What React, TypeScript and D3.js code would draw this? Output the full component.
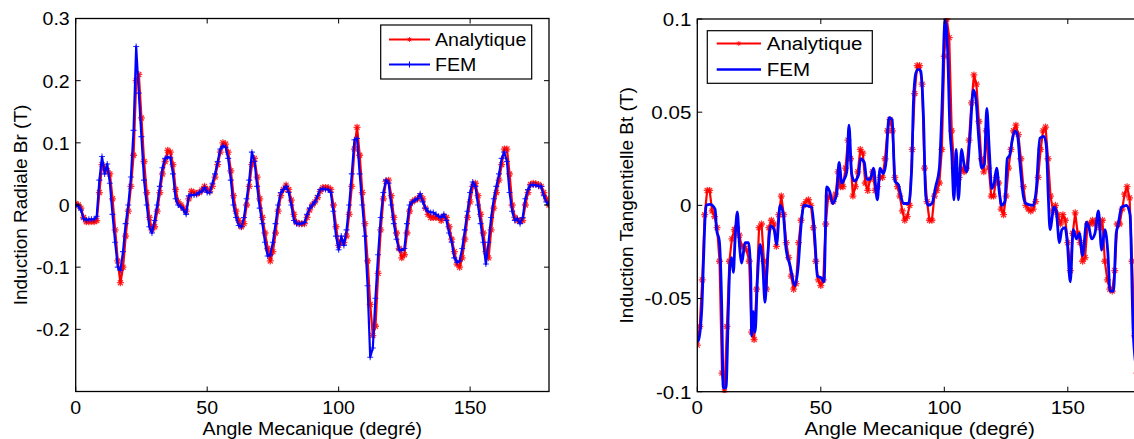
import React from 'react';
import * as d3 from 'd3';

// ---------- DATA ----------
const angles = d3.range(0, 181); // degrees, 1° step

const radialAnalytique = [
  0.002, 0.0, -0.005, -0.02, -0.027, -0.027, -0.026, -0.027, -0.025, 0.02,
  0.065, 0.06, 0.055, 0.05, 0.01, -0.04, -0.09, -0.125, -0.1, -0.05,
  -0.01, 0.03, 0.08, 0.2, 0.21, 0.14, 0.07, 0.02, -0.02, -0.04,
  -0.035, -0.01, 0.02, 0.05, 0.07, 0.088, 0.085, 0.065, 0.025, 0.005,
  0.0, -0.005, -0.01, 0.01, 0.022, 0.02, 0.018, 0.02, 0.024, 0.03,
  0.025, 0.022, 0.03, 0.045, 0.065, 0.085, 0.1, 0.098, 0.085, 0.055,
  0.015, -0.01, -0.025, -0.035, -0.03, 0.0, 0.03, 0.065, 0.075, 0.045,
  0.01, -0.02, -0.045, -0.07, -0.09, -0.075, -0.045, -0.01, 0.015, 0.025,
  0.032, 0.025, 0.008, -0.015, -0.028, -0.03, -0.03, -0.03, -0.02, -0.008,
  0.0, 0.005, 0.012, 0.022, 0.028, 0.028, 0.028, 0.025, 0.0, -0.035,
  -0.065, -0.06, -0.06, -0.05, -0.015, 0.03, 0.09, 0.125, 0.08, 0.02,
  -0.03, -0.09, -0.16, -0.21, -0.195, -0.11, -0.04, 0.01, 0.038, 0.04,
  0.015, -0.02, -0.045, -0.07, -0.085, -0.08, -0.045, -0.01, 0.005, 0.008,
  0.01, 0.015, 0.01, -0.005, -0.015, -0.02, -0.02, -0.02, -0.02, -0.025,
  -0.018, -0.02, -0.035, -0.055, -0.075, -0.095, -0.1, -0.085, -0.055, -0.02,
  0.005, 0.03, 0.035, 0.015, -0.015, -0.045, -0.075, -0.085, -0.04, -0.005,
  0.02, 0.04, 0.065, 0.09, 0.09, 0.05, 0.0, -0.02, -0.025, -0.025,
  -0.025, 0.0, 0.02, 0.033, 0.035, 0.034, 0.033, 0.03, 0.02, 0.01,
  0.0,
];

const radialFem = [
  0.0, -0.002, -0.008, -0.022, -0.024, -0.023, -0.023, -0.023, -0.018, 0.04,
  0.078, 0.05, 0.066, 0.035, -0.015, -0.06, -0.1, -0.105, -0.075, -0.03,
  0.0, 0.045, 0.12, 0.255, 0.18, 0.11, 0.04, 0.0, -0.035, -0.045,
  -0.025, 0.0, 0.03, 0.06, 0.075, 0.077, 0.076, 0.05, 0.01, 0.0,
  -0.003, -0.008, -0.015, 0.015, 0.016, 0.016, 0.017, 0.02, 0.022, 0.028,
  0.02, 0.02, 0.035, 0.05, 0.07, 0.09, 0.095, 0.093, 0.075, 0.04,
  0.0, -0.02, -0.033, -0.035, -0.02, 0.01, 0.04, 0.085, 0.07, 0.03,
  -0.005, -0.03, -0.06, -0.082, -0.08, -0.06, -0.03, 0.0, 0.02, 0.025,
  0.03, 0.02, 0.0, -0.025, -0.03, -0.03, -0.03, -0.028, -0.015, -0.005,
  0.0, 0.005, 0.015, 0.025, 0.026, 0.025, 0.025, 0.02, -0.01, -0.05,
  -0.072, -0.05, -0.065, -0.04, 0.0, 0.05, 0.105, 0.107, 0.05, 0.0,
  -0.05, -0.13, -0.245, -0.23, -0.15, -0.08, -0.02, 0.02, 0.04, 0.035,
  0.0, -0.03, -0.055, -0.072, -0.073, -0.07, -0.03, 0.0, 0.005, 0.008,
  0.01, 0.018, 0.005, -0.005, -0.01, -0.012, -0.012, -0.015, -0.018, -0.02,
  -0.015, -0.025, -0.045, -0.06, -0.085, -0.092, -0.09, -0.07, -0.04, -0.01,
  0.02, 0.037, 0.03, 0.0, -0.03, -0.06, -0.095, -0.06, -0.02, 0.01,
  0.03, 0.05, 0.075, 0.085, 0.07, 0.02, -0.01, -0.025, -0.022, -0.03,
  -0.02, 0.01, 0.025, 0.032, 0.032, 0.032, 0.03, 0.03, 0.015, 0.005,
  0.0,
];

const tangentAnalytique = [
  -0.075, -0.065, -0.04, -0.005, 0.008, 0.008, -0.003, -0.006, -0.012, -0.03,
  -0.09, -0.1, -0.065, -0.03, -0.018, -0.013, -0.012, -0.016, -0.022, -0.022,
  -0.024, -0.03, -0.068, -0.072, -0.045, -0.012, -0.01, -0.03, -0.045, -0.012,
  -0.008, -0.01, -0.022, -0.005, 0.005, -0.005, -0.02, -0.028, -0.038, -0.045,
  -0.042, -0.02, -0.008, 0.0, 0.002, 0.003, 0.0, -0.012, -0.03, -0.04,
  -0.043, -0.04, -0.01, 0.005, 0.004, 0.002, 0.006, 0.018, 0.01, 0.01,
  0.02, 0.035, 0.025, 0.005, 0.01, 0.018, 0.03, 0.028, 0.012, 0.008,
  0.014, 0.018, 0.008, 0.01, 0.015, 0.015, 0.025, 0.04, 0.046, 0.04,
  0.015, 0.01, 0.005, -0.003, -0.008, -0.006, 0.0, 0.03, 0.06, 0.075,
  0.075, 0.065, 0.02, 0.002, -0.008, -0.008, 0.005, 0.008, 0.012, 0.03,
  0.08, 0.1, 0.09, 0.04, 0.02, 0.012, 0.015, 0.02, 0.018, 0.02,
  0.035, 0.055, 0.07, 0.065, 0.045, 0.025, 0.018, 0.04, 0.02, 0.005,
  0.005, 0.015, 0.012, -0.002, -0.005, 0.005, 0.02, 0.03, 0.04, 0.043,
  0.038, 0.025, 0.01, 0.0, -0.002, -0.003, -0.002, 0.002, 0.015, 0.03,
  0.04, 0.042, 0.025, 0.005, -0.003, 0.0, -0.005, -0.01, -0.005, -0.008,
  -0.02, -0.035, -0.015, -0.004, -0.015, -0.02, -0.03, -0.028, -0.01, -0.01,
  -0.008, -0.01, -0.008, -0.012, -0.008, -0.03, -0.04, -0.045, -0.046, -0.035,
  -0.01, -0.01, -0.002, 0.006, 0.01, 0.004, -0.03, -0.07, -0.09, -0.095,
  -0.1,
];

const tangentFemAngles = [
  0, 0.4, 1.8, 2.5, 3.1, 3.6, 5.1, 7.2, 7.8, 8.9, 9.9, 10.5, 11.6, 12.6, 13.2,
  13.9, 14.6, 15.3, 16.2, 17.0, 18.0, 19.3, 20.7, 21.6, 22.0, 22.7, 23.4, 24.3,
  25.4, 26.5, 27.4, 28.3, 29.7, 31.1, 32.1, 33.5, 34.8, 35.9, 37.5, 39.6, 40.9,
  41.9, 43.2, 46.3, 47.6, 48.6, 50.3, 51.3, 52.4, 53.7, 54.8, 56.4, 57.4, 58.5,
  59.5, 60.5, 61.4, 62.5, 63.6, 65.2, 66.1, 67.6, 68.6, 70, 71.3, 72.9, 74,
  75.3, 76.3, 77.6, 78.9, 80, 81.4, 83.4, 85.5, 86.8, 87.5, 88.5, 89.5, 90.5,
  91.5, 92.5, 93.5, 95, 96.5, 98, 99, 100.3, 101.3, 102.3, 103, 103.9, 104.8,
  105.7, 107, 108, 109.1, 110.3, 111.8, 112.8, 114, 115.1, 116.2, 117.2, 118.2,
  119.2, 120.2, 121.2, 122.2, 123.2, 124.5, 125.5, 126.5, 127.5, 128.6, 129.6,
  130.8, 132, 133, 136, 137.2, 138.7, 140.4, 141.3, 142.1, 142.8, 144.4, 145.3,
  146.6, 147.6, 148.9, 149.8, 151, 152.2, 153.5, 154.7, 156, 157.6, 158.6,
  159.6, 161, 162.4, 163.7, 165, 166.2, 167.1, 168.5, 169.6, 170.3, 171.8,
  173.8, 175.2, 176.5, 178, 180,
];
const tangentFemValues = [
  -0.073, -0.0726, -0.056, -0.03, -0.008, 0, 0.0005, -0.002, -0.013, -0.019,
  -0.055, -0.098, -0.098, -0.055, -0.032, -0.028, -0.036, -0.018, -0.0035,
  -0.02, -0.031, -0.02, -0.02, -0.036, -0.07, -0.057, -0.068, -0.041, -0.021,
  -0.032, -0.052, -0.032, -0.011, -0.013, -0.021, 0, -0.0045, -0.023, -0.032,
  -0.043, -0.032, -0.0125, 0, -0.001, -0.018, -0.038, -0.039, -0.041, 0.0099,
  0.007, 0.001, 0.006, 0.023, 0.012, 0.014, 0.018, 0.043, 0.017, 0.013, 0.016,
  0.025, 0.023, 0.014, 0.014, 0.02, 0.003, 0.02, 0.017, 0.022, 0.047, 0.046,
  0.013, 0.011, 0.001, 0.001, 0.02, 0.055, 0.071, 0.073, 0.072, 0.05, 0.005,
  0, 0.001, 0.01, 0.02, 0.05, 0.0995, 0.085, 0.04, 0.028, 0.003, 0.03, 0.003,
  0.03, 0.022, 0.018, 0.035, 0.062, 0.057, 0.035, 0.02, 0.022, 0.052, 0.03,
  0.009, 0.012, 0.02, 0.008, 0, 0.002, 0.025, 0.027, 0.035, 0.04, 0.038, 0.02,
  0.005, 0.001, 0, 0.008, 0.036, 0.037, 0.032, 0.005, -0.013, -0.001, -0.003,
  -0.02, -0.013, -0.012, -0.02, -0.041, -0.013, -0.018, -0.015, -0.027, -0.009,
  -0.012, -0.018, -0.015, -0.003, -0.024, -0.013, -0.025, -0.046, -0.046,
  -0.015, -0.011, -0.001, 0, -0.005, -0.069, -0.09, -0.1,
];

const xTickValues = [0, 50, 100, 150];
const radialTicks = [-0.2, -0.1, 0, 0.1, 0.2, 0.3];
const tangentTicks = [-0.1, -0.05, 0, 0.05, 0.1];
const seriesNames = ['Analytique', 'FEM'];
const xTitle = 'Angle Mecanique (degré)';
const radialTitle = 'Induction Radiale  Br (T)';
const tangentTitle = 'Induction Tangentielle Bt (T)';

// ---------- STYLE ----------
const RED = '#ff0000';
const BLUE = '#0000ff';
const FONT = 'Arial, "Liberation Sans", sans-serif';
const FS = 19;
const STAR = 'M-3.5,0H3.5M0,-3.5V3.5M-2.5,-2.5L2.5,2.5M-2.5,2.5L2.5,-2.5';
const PLUS = 'M-3,0H3M0,-3V3';

const fmt = (v: number) => (v === 0 ? '0' : String(v));

type PanelProps = {
  id: string;
  left: number;
  right: number;
  top: number;
  bottom: number;
  yDomain: [number, number];
  yTicks: number[];
  yTitle: string;
  yTitleX: number;
  sx: number;
  legend: { x0: number; y0: number; x1: number; y1: number; row1: number; row2: number; lx0: number; lx1: number; tx: number };
  children: (x: d3.ScaleLinear<number, number>, y: d3.ScaleLinear<number, number>) => React.ReactNode;
  femMarker: boolean;
};

function HText({ x, y, sx, anchor, children, dy }: any) {
  return (
    <text
      transform={`translate(${x},${y}) scale(${sx},1)`}
      textAnchor={anchor}
      dy={dy}
      fontFamily={FONT}
      fontSize={FS}
      fill="#000"
    >
      {children}
    </text>
  );
}

function Panel(p: PanelProps) {
  const x = d3.scaleLinear().domain([0, 180]).range([p.left, p.right]);
  const y = d3.scaleLinear().domain(p.yDomain).range([p.bottom, p.top]);
  const tl = 5;
  const L = p.legend;
  return (
    <g>
      <defs>
        <clipPath id={`clip-${p.id}`}>
          <rect x={p.left} y={p.top - 1} width={p.right - p.left} height={p.bottom - p.top + 2} />
        </clipPath>
      </defs>
      <g clipPath={`url(#clip-${p.id})`}>{p.children(x, y)}</g>
      <rect x={p.left} y={p.top} width={p.right - p.left} height={p.bottom - p.top} fill="none" stroke="#000" strokeWidth={1.3} />
      {xTickValues.map((t) => (
        <g key={`xt${t}`}>
          <line x1={x(t)} x2={x(t)} y1={p.bottom} y2={p.bottom - tl} stroke="#000" strokeWidth={1} />
          <line x1={x(t)} x2={x(t)} y1={p.top} y2={p.top + tl} stroke="#000" strokeWidth={1} />
          <HText x={x(t)} y={p.bottom + 22} sx={p.sx} anchor="middle">{fmt(t)}</HText>
        </g>
      ))}
      {p.yTicks.map((t) => (
        <g key={`yt${t}`}>
          <line x1={p.left} x2={p.left + tl} y1={y(t)} y2={y(t)} stroke="#000" strokeWidth={1} />
          <line x1={p.right} x2={p.right - tl} y1={y(t)} y2={y(t)} stroke="#000" strokeWidth={1} />
          <HText x={p.left - 6} y={y(t)} sx={p.sx} anchor="end" dy="0.36em">{fmt(t)}</HText>
        </g>
      ))}
      <HText x={(p.left + p.right) / 2} y={435} sx={p.sx} anchor="middle">{xTitle}</HText>
      <text
        transform={`translate(${p.yTitleX},${(p.top + p.bottom) / 2}) rotate(-90)`}
        textAnchor="middle"
        fontFamily={FONT}
        fontSize={FS}
        fill="#000"
      >
        {p.yTitle}
      </text>
      <rect x={L.x0} y={L.y0} width={L.x1 - L.x0} height={L.y1 - L.y0} fill="#fff" stroke="#000" strokeWidth={1.2} />
      <line x1={L.lx0} x2={L.lx1} y1={L.row1} y2={L.row1} stroke={RED} strokeWidth={2} />
      <path d={STAR} transform={`translate(${(L.lx0 + L.lx1) / 2},${L.row1}) scale(0.7)`} stroke={RED} strokeWidth={1.2} fill="none" />
      <HText x={L.tx} y={L.row1} sx={p.sx} anchor="start" dy="0.36em">{seriesNames[0]}</HText>
      <line x1={L.lx0} x2={L.lx1} y1={L.row2} y2={L.row2} stroke={BLUE} strokeWidth={p.femMarker ? 2 : 2.5} />
      {p.femMarker && (
        <path d={PLUS} transform={`translate(${(L.lx0 + L.lx1) / 2},${L.row2})`} stroke={BLUE} strokeWidth={1} fill="none" />
      )}
      <HText x={L.tx} y={L.row2} sx={p.sx} anchor="start" dy="0.36em">{seriesNames[1]}</HText>
    </g>
  );
}

export default function App() {
  const line = (x: any, y: any, curve: any = d3.curveLinear) =>
    d3
      .line<[number, number]>()
      .x((d) => x(d[0]))
      .y((d) => y(d[1]))
      .curve(curve);

  const radA: [number, number][] = angles.map((a, i) => [a, radialAnalytique[i]]);
  const radF: [number, number][] = angles.map((a, i) => [a, radialFem[i]]);
  const tanA: [number, number][] = angles.map((a, i) => [a, tangentAnalytique[i]]);
  const tanF: [number, number][] = tangentFemAngles.map((a, i) => [a, tangentFemValues[i]]);

  return (
    <svg
      width={1134}
      height={439}
      style={{ position: 'absolute', left: 0, top: 0, background: '#fff', overflow: 'hidden' }}
    >
      <rect x={0} y={0} width={1134} height={439} fill="#fff" />
      <Panel
        id="left"
        left={75.7}
        right={549}
        top={18.5}
        bottom={391.5}
        yDomain={[-0.3, 0.3]}
        yTicks={radialTicks}
        yTitle={radialTitle}
        yTitleX={27}
        sx={1.03}
        femMarker={true}
        legend={{ x0: 380.7, y0: 25, x1: 531.7, y1: 79, row1: 39.5, row2: 64.5, lx0: 389, lx1: 430, tx: 435 }}
      >
        {(x, y) => (
          <g>
            <path d={line(x, y)(radA) || ''} fill="none" stroke={RED} strokeWidth={2.3} strokeLinejoin="round" />
            {radA.map((d, i) => (
              <path key={`ra${i}`} d={STAR} transform={`translate(${x(d[0])},${y(d[1])})`} stroke={RED} strokeWidth={1.3} fill="none" opacity={0.8} />
            ))}
            <path d={line(x, y)(radF) || ''} fill="none" stroke={BLUE} strokeWidth={2.2} strokeLinejoin="round" />
            {radF.map((d, i) => (
              <path key={`rf${i}`} d={PLUS} transform={`translate(${x(d[0])},${y(d[1])})`} stroke={BLUE} strokeWidth={1.1} fill="none" opacity={0.8} />
            ))}
          </g>
        )}
      </Panel>
      <Panel
        id="right"
        left={697.3}
        right={697.3 + 180 * 2.47}
        top={19}
        bottom={391.7}
        yDomain={[-0.1, 0.1]}
        yTicks={tangentTicks}
        yTitle={tangentTitle}
        yTitleX={633}
        sx={1.08}
        femMarker={false}
        legend={{ x0: 707.3, y0: 30.7, x1: 872.3, y1: 83.3, row1: 43.5, row2: 69.5, lx0: 716.7, lx1: 761, tx: 766.7 }}
      >
        {(x, y) => (
          <g>
            <path d={line(x, y)(tanA) || ''} fill="none" stroke={RED} strokeWidth={2.2} strokeLinejoin="round" />
            {tanA.map((d, i) => (
              <path key={`ta${i}`} d={STAR} transform={`translate(${x(d[0])},${y(d[1])})`} stroke={RED} strokeWidth={1.3} fill="none" opacity={0.8} />
            ))}
            <path d={line(x, y, d3.curveMonotoneX)(tanF) || ''} fill="none" stroke={BLUE} strokeWidth={2.8} strokeLinejoin="round" />
          </g>
        )}
      </Panel>
    </svg>
  );
}
